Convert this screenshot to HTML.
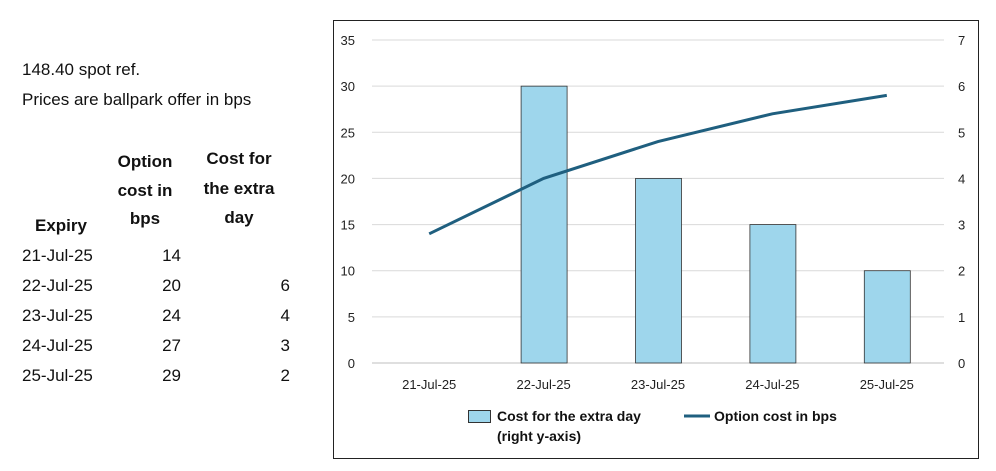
<!DOCTYPE html>
<html><head><meta charset="utf-8"><style>
body{margin:0;background:#fff;width:996px;height:466px;overflow:hidden;font-family:"Liberation Sans",sans-serif;}
svg text{font-family:"Liberation Sans",sans-serif;}
</style></head><body>
<svg id="s" width="996" height="466" xmlns="http://www.w3.org/2000/svg">
<g font-size="17" fill="#111">
<text x="22" y="75">148.40 spot ref.</text>
<text x="22" y="105">Prices are ballpark offer in bps</text>
<g font-weight="bold" text-anchor="middle">
<text x="61" y="231">Expiry</text>
<text x="145" y="167">Option</text>
<text x="145" y="196">cost in</text>
<text x="145" y="224">bps</text>
<text x="239" y="164">Cost for</text>
<text x="239" y="194">the extra</text>
<text x="239" y="223">day</text>
</g>
<g id="rows"></g>
</g>
<rect x="333.5" y="20.5" width="645" height="438" fill="#fff" stroke="#222"/>
<g id="chart"></g>
<g font-size="14" font-weight="bold" fill="#111">
<rect x="468.5" y="410.5" width="22" height="12" fill="#9ed6ec" stroke="#333"/>
<text x="497" y="421">Cost for the extra day</text>
<text x="497" y="441">(right y-axis)</text>
<line x1="684" y1="416" x2="710" y2="416" stroke="#1f5f7f" stroke-width="3"/>
<text x="714" y="421">Option cost in bps</text>
</g>
</svg>
<script>
const categories=["21-Jul-25","22-Jul-25","23-Jul-25","24-Jul-25","25-Jul-25"];
const optionCost=[14,20,24,27,29];
const extraDay=[null,6,4,3,2];
const leftTicks=[0,5,10,15,20,25,30,35];
const rightTicks=[0,1,2,3,4,5,6,7];
const NS="http://www.w3.org/2000/svg";
function mk(tag,attrs,parent,txt){const e=document.createElementNS(NS,tag);for(const k in attrs)e.setAttribute(k,attrs[k]);if(txt!=null)e.textContent=txt;parent.appendChild(e);return e;}
const rows=document.getElementById('rows');
categories.forEach((c,i)=>{const y=261+i*30;
 let t=mk('text',{x:22,y:y},rows,c);
 
 
 t=mk('text',{x:181,y:y,'text-anchor':'end'},rows,optionCost[i]);
 
 
 if(extraDay[i]!=null){t=mk('text',{x:290,y:y,'text-anchor':'end'},rows,extraDay[i]);
 
 }
});
const g=document.getElementById('chart');
const L=372,R=944,Y0=363,Y1=40;
const yL=v=>Y0-(v/35)*(Y0-Y1);
const yR=v=>Y0-(v/7)*(Y0-Y1);
const band=(R-L)/categories.length;
const xC=i=>L+band*(i+0.5);
leftTicks.forEach(v=>{const y=yL(v);
 if(v>0){const l=mk('line',{x1:L,x2:R,y1:y,y2:y,stroke:'#d9d9d9'},g);}
 const t=mk('text',{x:355,y:y+5,'text-anchor':'end','font-size':13,fill:'#222'},g,v);
 
 });
rightTicks.forEach(v=>{const t=mk('text',{x:958,y:yR(v)+5,'font-size':13,fill:'#222'},g,v);
 
 });
const ax=mk('line',{x1:L,x2:R,y1:Y0,y2:Y0,stroke:'#bfbfbf'},g);


categories.forEach((c,i)=>{const t=mk('text',{x:xC(i),y:389,'text-anchor':'middle','font-size':13,fill:'#222'},g,c);
 
 
 if(extraDay[i]!=null){const b=mk('rect',{x:xC(i)-23+0.5,y:yR(extraDay[i]),width:46,height:Y0-yR(extraDay[i]),fill:'#9ed6ec',stroke:'#333','stroke-width':0.8},g);
 
 }
});
const p=mk('polyline',{points:optionCost.map((v,i)=>xC(i)+','+yL(v)).join(' '),fill:'none',stroke:'#1f5f7f','stroke-width':3},g);


</script>
</body></html>
